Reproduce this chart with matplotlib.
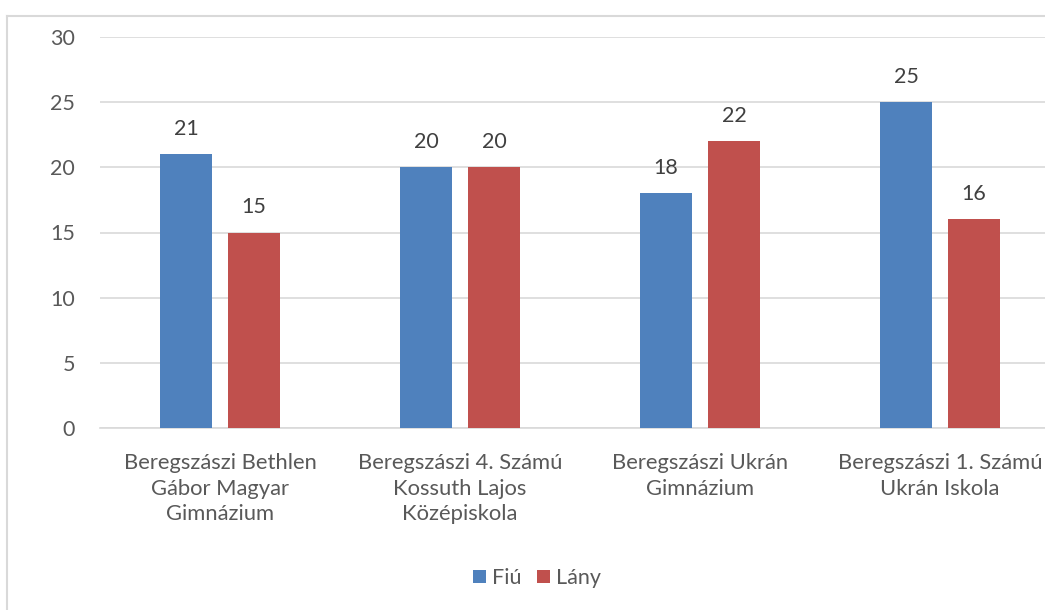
import numpy as np
import matplotlib.pyplot as plt
from matplotlib.lines import Line2D

categories = ["Beregszászi Bethlen\nGábor Magyar\nGimnázium",
              "Beregszászi 4. Számú\nKossuth Lajos\nKözépiskola",
              "Beregszászi Ukrán\nGimnázium",
              "Beregszászi 1. Számú\nUkrán Iskola"]
fiu = [21, 20, 18, 25]
lany = [15, 20, 22, 16]

plt.rcParams['font.family'] = ['Lato', 'DejaVu Sans']

fig = plt.figure(figsize=(10.45, 6.1), dpi=100)
W, H = 1045, 610
ax = fig.add_axes([100 / W, 1 - 428 / H, 960 / W, (428 - 37) / H])

x = np.arange(len(categories))
bw = 0.217
off = 0.1417
b1 = ax.bar(x - off, fiu, bw, color="#4F81BD", label="Fiú", zorder=3)
b2 = ax.bar(x + off, lany, bw, color="#C0504D", label="Lány", zorder=3)

for bars in (b1, b2):
    for r in bars:
        ax.text(r.get_x() + r.get_width() / 2, r.get_height() + 1.2, str(int(r.get_height())),
                ha="center", va="bottom", fontsize=15.5, color="#404040")

ax.set_xlim(-0.5, 3.5)
ax.set_ylim(0, 30)
ax.set_yticks(range(0, 31, 5))
ax.yaxis.grid(True, color="#d9d9d9", linewidth=1.2, zorder=0)
ax.set_xticks(x)
ax.set_xticklabels(categories, linespacing=1.35)
ax.tick_params(axis="x", length=0, pad=18, labelsize=15.8, labelcolor="#595959")
ax.tick_params(axis="y", length=0, pad=18, labelsize=15.5, labelcolor="#595959")
for s in ["top", "right", "left"]:
    ax.spines[s].set_visible(False)
ax.spines["bottom"].set_color("#d9d9d9")
ax.spines["bottom"].set_linewidth(1.2)

fig.legend(handles=[b1, b2], loc="center", bbox_to_anchor=(537 / W, 1 - 578 / H), ncol=2,
           frameon=False, fontsize=15.5, handlelength=0.6, handleheight=0.6,
           handletextpad=0.3, columnspacing=0.7, labelcolor="#595959")

# chart border (only left and top visible in the crop)
fig.add_artist(Line2D([6.5 / W, 6.5 / W], [0, 1 - 16 / H], transform=fig.transFigure,
                      color="#d9d9d9", linewidth=1.5))
fig.add_artist(Line2D([6.5 / W, 1], [1 - 16 / H, 1 - 16 / H], transform=fig.transFigure,
                      color="#d9d9d9", linewidth=1.5))

fig.savefig("out.png", dpi=100)
